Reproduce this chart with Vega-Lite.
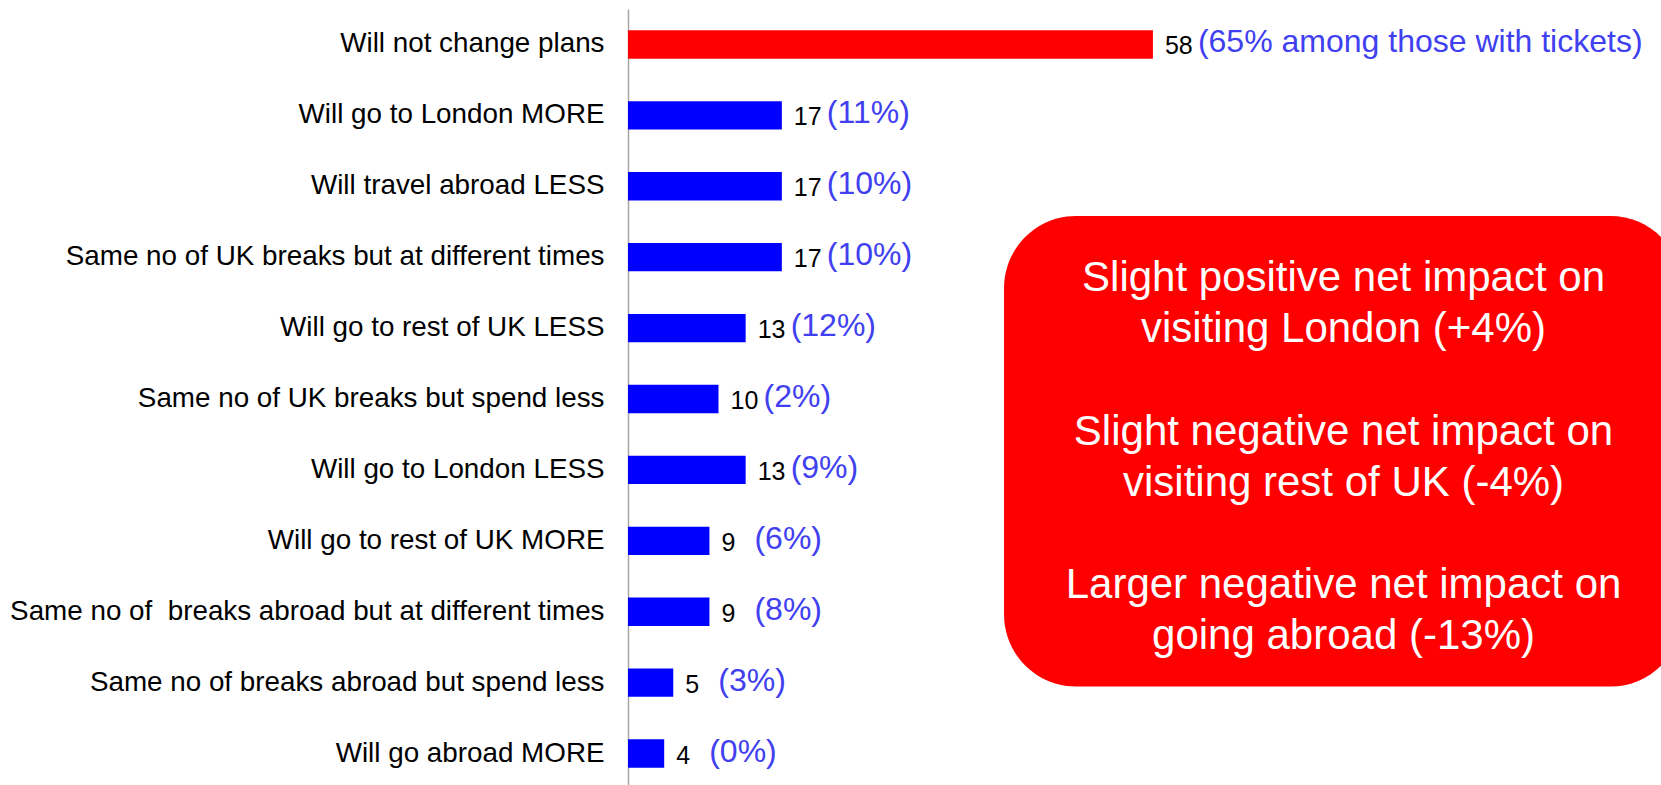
{
  "$schema": "https://vega.github.io/schema/vega-lite/v6.json",
  "width": 1033,
  "height": 780,
  "autosize": {"type": "none"},
  "padding": {"left": 628, "top": 9, "right": 0, "bottom": 0},
  "background": "white",
  "config": {"view": {"stroke": null}, "font": "Liberation Sans"},
  "layer": [
    {
      "data": {
        "values": [
          {"label": "Will not change plans", "value": 58, "note": "(65% among those with tickets)"},
          {"label": "Will go to London MORE\u00a0", "value": 17, "note": "(11%)"},
          {"label": "Will travel abroad LESS\u00a0", "value": 17, "note": "(10%)"},
          {"label": "Same no of UK breaks but at different times", "value": 17, "note": "(10%)"},
          {"label": "Will go to rest of UK LESS", "value": 13, "note": "(12%)"},
          {"label": "Same no of UK breaks but spend less", "value": 10, "note": "(2%)"},
          {"label": "Will go to London LESS", "value": 13, "note": "(9%)"},
          {"label": "Will go to rest of UK MORE", "value": 9, "note": "(6%)"},
          {"label": "Same no of\u00a0 breaks abroad but at different times", "value": 9, "note": "(8%)"},
          {"label": "Same no of breaks abroad but spend less", "value": 5, "note": "(3%)"},
          {"label": "Will go abroad MORE", "value": 4, "note": "(0%)"}
        ]
      },
      "encoding": {
        "y": {
          "field": "label",
          "type": "nominal",
          "sort": null,
          "scale": {"paddingInner": 0.6, "paddingOuter": 0.3},
          "axis": {
            "title": null,
            "ticks": false,
            "tickSize": 0,
            "labelPadding": 24,
            "labelFontSize": 27.8,
            "labelColor": "#000000",
            "labelFont": "Liberation Sans",
            "labelLimit": 700,
            "domainColor": "#a6a6a6",
            "domainWidth": 1.5,
            "grid": false
          }
        },
        "x": {
          "field": "value",
          "type": "quantitative",
          "scale": {"domain": [0, 114.14], "nice": false, "zero": true},
          "axis": null
        }
      },
      "layer": [
        {
          "mark": {"type": "bar"},
          "encoding": {
            "color": {
              "condition": {"test": "datum.label === 'Will not change plans'", "value": "#ff0000"},
              "value": "#0000ff"
            }
          }
        },
        {
          "mark": {"type": "text", "align": "left", "baseline": "middle", "dx": 12, "dy": 2, "fontSize": 25, "color": "#000000"},
          "encoding": {"text": {"field": "value", "type": "quantitative"}}
        },
        {
          "mark": {"type": "text", "align": "left", "baseline": "middle", "dx": 45, "dy": -2, "fontSize": 32, "color": "#4040f0"},
          "encoding": {"text": {"field": "note", "type": "nominal"}}
        }
      ]
    },
    {
      "data": {
        "values": [
          {"london": "Slight positive net impact on\nvisiting London (+4%)", "uk": "Slight negative net impact on\nvisiting rest of UK (-4%)", "abroad": "Larger negative net impact on\ngoing abroad (-13%)"}
        ]
      },
      "encoding": {
        "x": {"datum": 79.06, "type": "quantitative", "scale": {"domain": [0, 114.14], "nice": false, "zero": true}, "axis": null}
      },
      "layer": [
        {
          "mark": {"type": "rect", "fill": "#ff0000", "cornerRadius": 72},
          "encoding": {
            "x": {"datum": 41.55, "type": "quantitative", "scale": {"domain": [0, 114.14], "nice": false, "zero": true}, "axis": null},
            "x2": {"datum": 116.5},
            "y": {"datum": 2.92, "type": "quantitative", "scale": {"domain": [0, 11], "reverse": true, "nice": false, "zero": true}, "axis": null},
            "y2": {"datum": 9.555}
          }
        },
        {
          "mark": {"type": "text", "align": "center", "baseline": "alphabetic", "fontSize": 42, "lineHeight": 51.2, "lineBreak": "\n", "color": "#ffffff"},
          "encoding": {
            "y": {"datum": 3.977, "type": "quantitative", "scale": {"domain": [0, 11], "reverse": true, "nice": false, "zero": true}, "axis": null},
            "text": {"field": "london", "type": "nominal"}
          }
        },
        {
          "mark": {"type": "text", "align": "center", "baseline": "alphabetic", "fontSize": 42, "lineHeight": 51.2, "lineBreak": "\n", "color": "#ffffff"},
          "encoding": {
            "y": {"datum": 6.143, "type": "quantitative", "scale": {"domain": [0, 11], "reverse": true, "nice": false, "zero": true}, "axis": null},
            "text": {"field": "uk", "type": "nominal"}
          }
        },
        {
          "mark": {"type": "text", "align": "center", "baseline": "alphabetic", "fontSize": 42, "lineHeight": 51.2, "lineBreak": "\n", "color": "#ffffff"},
          "encoding": {
            "y": {"datum": 8.308, "type": "quantitative", "scale": {"domain": [0, 11], "reverse": true, "nice": false, "zero": true}, "axis": null},
            "text": {"field": "abroad", "type": "nominal"}
          }
        }
      ]
    }
  ],
  "resolve": {"scale": {"y": "independent"}}
}
